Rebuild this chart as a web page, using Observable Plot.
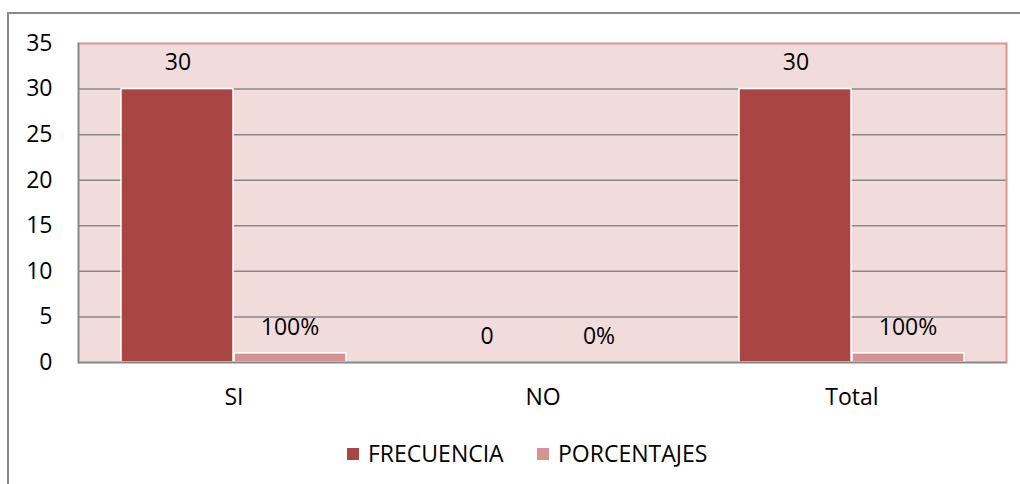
<!DOCTYPE html>
<html>
<head>
<meta charset="utf-8">
<script src="https://cdn.jsdelivr.net/npm/d3@7"></script>
<script src="https://cdn.jsdelivr.net/npm/@observablehq/plot@0.6"></script>
<style>
  body { margin:0; width:1020px; height:484px; overflow:hidden; position:relative; background:#fff; font-family:"Open Sans", sans-serif; }
  #border { position:absolute; left:7px; top:12px; width:1100px; height:600px; border:2px solid #8a8a8a; box-sizing:border-box; }
  #chart { position:absolute; left:0; top:0; }
  .item { position:absolute; top:440px; height:26px; line-height:26px; font-size:23px; color:#000; white-space:nowrap; }
  .sw { display:inline-block; width:12px; height:12px; margin-right:9px; vertical-align:middle; position:relative; top:-2px; }
</style>
</head>
<body>
<div id="border"></div>
<div id="chart"></div>
<div id="legend"></div>
<script>
const categories = ["SI", "NO", "Total"];
const frecuencia = [30, 0, 30];
const porcentajes = [1, 0, 1];
const frecuenciaLabels = ["30", "0", "30"];
const porcentajeLabels = ["100%", "0%", "100%"];
const yTicks = [0, 5, 10, 15, 20, 25, 30, 35];
const gridValues = [5, 10, 15, 20, 25, 30];
const seriesNames = ["FRECUENCIA", "PORCENTAJES"];
const seriesColors = ["#A94543", "#D59393"];

const rows = categories.map((c, i) => ({
  cat: c, frec: frecuencia[i], pct: porcentajes[i],
  frecLabel: frecuenciaLabels[i], pctLabel: porcentajeLabels[i]
}));

const chart = Plot.plot({
  width: 1020,
  height: 425,
  marginTop: 43,
  marginBottom: 63,
  marginLeft: 78,
  marginRight: 14,
  style: { fontFamily: "Open Sans", fontSize: "23px", color: "#000", background: "transparent", overflow: "visible" },
  x: { type: "band", domain: categories, paddingInner: 0.2726, paddingOuter: 0.1363, axis: null },
  y: { domain: [0, 35], axis: null },
  marks: [
    Plot.frame({ fill: "#F2DCDB", stroke: null }),
    Plot.ruleY(gridValues, { stroke: "#878787", strokeWidth: 1.5 }),
    Plot.ruleY([35], { stroke: "#D99694", strokeWidth: 2 }),
    Plot.frame({ anchor: "right", stroke: "#D99694", strokeWidth: 2 }),
    Plot.barY(rows, { x: "cat", y: "frec", fill: seriesColors[0], stroke: "#fff", strokeWidth: 1.5, insetRight: 113 }),
    Plot.barY(rows, { x: "cat", y: "pct", fill: seriesColors[1], stroke: "#fff", strokeWidth: 1.5, insetLeft: 113 }),
    Plot.frame({ anchor: "left", stroke: "#878787", strokeWidth: 2 }),
    Plot.ruleY([0], { stroke: "#878787", strokeWidth: 2 }),
    Plot.text(rows, { x: "cat", y: "frec", text: "frecLabel", dx: -56, dy: -26, fill: "#000" }),
    Plot.text(rows, { x: "cat", y: "pct", text: "pctLabel", dx: 56, dy: -26, fill: "#000" }),
    Plot.axisY({ ticks: yTicks, tickSize: 0, tickPadding: 26, label: null, fontSize: 23 }),
    Plot.axisX({ tickSize: 0, tickPadding: 26, label: null, fontSize: 23 })
  ]
});
document.getElementById("chart").appendChild(chart);

const legend = document.getElementById("legend");
const lefts = [347, 537];
seriesNames.forEach((name, i) => {
  const d = document.createElement("div");
  d.className = "item";
  d.style.left = lefts[i] + "px";
  d.innerHTML = `<span class="sw" style="background:${seriesColors[i]}"></span>${name}`;
  legend.appendChild(d);
});
</script>
</body>
</html>
